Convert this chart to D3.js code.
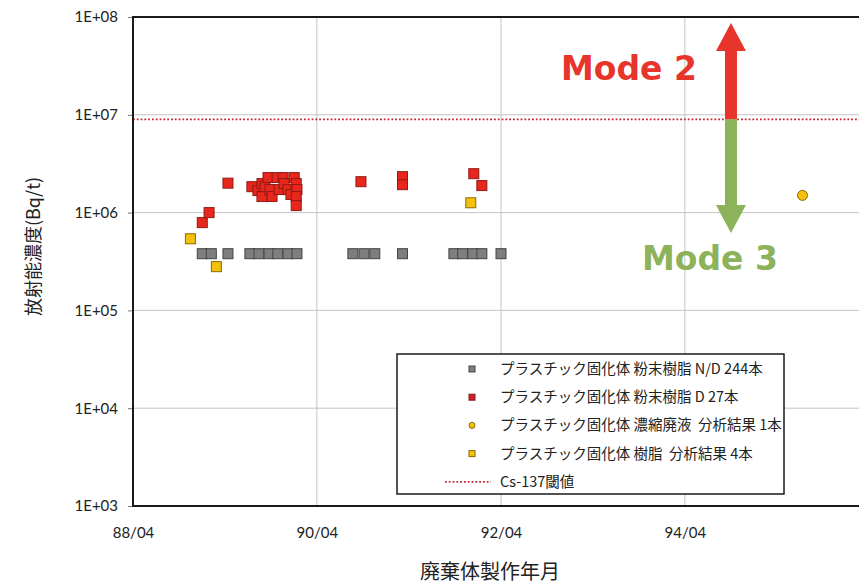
<!DOCTYPE html>
<html>
<head>
<meta charset="utf-8">
<script src="https://cdn.jsdelivr.net/npm/d3@7"></script>
<style>
  body { margin: 0; background: #fff; }
  svg { display: block; }
</style>
</head>
<body>
<svg id="chart" width="859" height="587"></svg>
<script>
// ---- data ----
// プラスチック固化体 粉末樹脂 N/D (detection limit values)
const ndDates = ["1989-01-01","1989-02-06","1989-04-13","1989-07-09","1989-08-14","1989-09-23",
  "1989-10-28","1989-12-07","1990-01-12","1990-08-22","1990-10-05","1990-11-17","1991-03-07",
  "1991-09-27","1991-11-01","1991-12-11","1992-01-16","1992-04-01"];
const ndValues = [3.8e5,3.8e5,3.8e5,3.8e5,3.8e5,3.8e5,3.8e5,3.8e5,3.8e5,3.8e5,3.8e5,3.8e5,3.8e5,
  3.8e5,3.8e5,3.8e5,3.8e5,3.8e5];

// プラスチック固化体 粉末樹脂 D
const dDates = ["1989-01-01","1989-01-28","1989-04-13","1989-07-17","1989-08-10","1989-08-26",
  "1989-08-26","1989-09-07","1989-09-19","1989-09-27","1989-10-05","1989-10-25","1989-11-02",
  "1989-11-18","1989-11-22","1989-12-07","1989-12-19","1990-01-01","1990-01-09","1990-01-12",
  "1990-01-09","1990-01-09","1990-09-23","1991-03-07","1991-03-07","1991-12-15","1992-01-16"];
const dValues = [7.9e5,1.0e6,2.0e6,1.84e6,1.68e6,1.98e6,1.46e6,1.84e6,2.28e6,1.72e6,1.46e6,
  2.28e6,1.72e6,2.28e6,1.98e6,1.72e6,1.53e6,2.28e6,1.98e6,1.72e6,1.46e6,1.18e6,2.07e6,
  2.33e6,1.93e6,2.5e6,1.89e6];

// プラスチック固化体 濃縮廃液 分析結果
const liquidDates = ["1995-07-12"];
const liquidValues = [1.5e6];

// プラスチック固化体 樹脂 分析結果
const resinDates = ["1988-11-15","1989-02-26","1991-12-03"];
const resinValues = [5.4e5,2.8e5,1.26e6];

// Cs-137 threshold
const threshold = 9.0e6;

// axis ticks
const yTicks = [1e3,1e4,1e5,1e6,1e7,1e8];
const yTickLabels = ["1E+03","1E+04","1E+05","1E+06","1E+07","1E+08"];
const xTickDates = ["1988-04-01","1990-04-01","1992-04-01","1994-04-01"];
const xTickLabels = ["88/04","90/04","92/04","94/04"];

const legendLabels = [
  "プラスチック固化体 粉末樹脂 N/D 244本",
  "プラスチック固化体 粉末樹脂 D 27本",
  "プラスチック固化体 濃縮廃液\u00a0\u00a0分析結果 1本",
  "プラスチック固化体 樹脂\u00a0\u00a0分析結果 4本",
  "Cs-137閾値"
];

// Mode boundary arrow
const arrowDate = "1994-10-01";
const arrowTop = 8.7e7;
const arrowBottom = 6.2e5;
const modeLabels = ["Mode 2", "Mode 3"];
const modeLabelValues = [2.27e7, 2.6e5];

// ---- drawing ----
const parse = d3.timeParse("%Y-%m-%d");
const svg = d3.select("#chart");
const W = 859, H = 587;
const margin = { left: 133, top: 17, right: -10, bottom: 81 };

const x = d3.scaleTime()
  .domain([parse("1988-04-01"), parse("1996-04-01")])
  .range([margin.left, W - margin.right]);
const y = d3.scaleLog()
  .domain([1e3, 1e8])
  .range([H - margin.bottom, margin.top]);

const numFont = "Lato, 'Open Sans', sans-serif";
const jpFont = "'Noto Sans CJK JP', sans-serif";

const colors = {
  nd: "#7e7e7e", ndStroke: "#444",
  d: "#e8261c", dStroke: "#8e1b16",
  yellow: "#f4c20d", yellowStroke: "#8a6a00",
  grid: "#c4c4c4",
  threshold: "#c3262c",
  mode2: "#e8352b",
  mode3: "#8cb25a"
};

const plot = svg.append("g");

// gridlines
plot.append("g").selectAll("line.hgrid")
  .data(yTicks.slice(1, -1))
  .join("line")
  .attr("x1", x.range()[0]).attr("x2", x.range()[1])
  .attr("y1", d => y(d)).attr("y2", d => y(d))
  .attr("stroke", colors.grid).attr("stroke-width", 1);

plot.append("g").selectAll("line.vgrid")
  .data(xTickDates.slice(1).map(parse))
  .join("line")
  .attr("x1", d => x(d)).attr("x2", d => x(d))
  .attr("y1", y(1e8)).attr("y2", y(1e3))
  .attr("stroke", colors.grid).attr("stroke-width", 1);

// y axis
const yAxis = d3.axisLeft(y)
  .tickValues(yTicks)
  .tickFormat((d, i) => yTickLabels[i])
  .tickSize(5)
  .tickPadding(10);
const yg = svg.append("g").attr("transform", `translate(${margin.left},0)`).call(yAxis);
yg.select(".domain").remove();
yg.selectAll(".tick line").attr("stroke", "#777");
yg.selectAll(".tick text").attr("font-family", numFont).attr("font-size", 15).attr("fill", "#222");

// x axis
const xAxis = d3.axisBottom(x)
  .tickValues(xTickDates.map(parse))
  .tickFormat((d, i) => xTickLabels[i])
  .tickSize(0)
  .tickPadding(21);
const xg = svg.append("g").attr("transform", `translate(0,${y(1e3)})`).call(xAxis);
xg.select(".domain").remove();
xg.selectAll(".tick text").attr("font-family", numFont).attr("font-size", 15).attr("fill", "#222");

// threshold
plot.append("line")
  .attr("x1", x.range()[0]).attr("x2", x.range()[1])
  .attr("y1", y(threshold)).attr("y2", y(threshold))
  .attr("stroke", colors.threshold).attr("stroke-width", 1.8)
  .attr("stroke-dasharray", "1.8,2");

// Mode arrow
const ax = x(parse(arrowDate));
const yMid = y(threshold);
const shaft = 6, headW = 15, headL = 28;
const yt = y(arrowTop), yb = y(arrowBottom);
svg.append("path")
  .attr("d", `M${ax - shaft},${yMid} L${ax - shaft},${yt + headL} L${ax - headW},${yt + headL}
    L${ax},${yt} L${ax + headW},${yt + headL} L${ax + shaft},${yt + headL} L${ax + shaft},${yMid} Z`)
  .attr("fill", colors.mode2);
svg.append("path")
  .attr("d", `M${ax - shaft},${yMid} L${ax - shaft},${yb - headL} L${ax - headW},${yb - headL}
    L${ax},${yb} L${ax + headW},${yb - headL} L${ax + shaft},${yb - headL} L${ax + shaft},${yMid} Z`)
  .attr("fill", colors.mode3);

svg.append("text")
  .attr("x", ax - 34).attr("y", y(modeLabelValues[0]))
  .attr("text-anchor", "end")
  .attr("font-family", "'DejaVu Sans', sans-serif").attr("font-weight", "bold")
  .attr("font-size", 33).attr("fill", colors.mode2)
  .text(modeLabels[0]);
svg.append("text")
  .attr("x", ax - 21).attr("y", y(modeLabelValues[1]))
  .attr("text-anchor", "middle")
  .attr("font-family", "'DejaVu Sans', sans-serif").attr("font-weight", "bold")
  .attr("font-size", 33).attr("fill", colors.mode3)
  .text(modeLabels[1]);

// markers
const sq = 10;
function squares(dates, values, fill, stroke) {
  plot.append("g").selectAll("rect")
    .data(dates.map((d, i) => ({ date: parse(d), v: values[i] })))
    .join("rect")
    .attr("x", d => x(d.date) - sq / 2)
    .attr("y", d => y(d.v) - sq / 2)
    .attr("width", sq).attr("height", sq)
    .attr("fill", fill).attr("stroke", stroke).attr("stroke-width", 1);
}
squares(ndDates, ndValues, colors.nd, colors.ndStroke);
squares(dDates, dValues, colors.d, colors.dStroke);
squares(resinDates, resinValues, colors.yellow, colors.yellowStroke);

plot.append("g").selectAll("circle")
  .data(liquidDates.map((d, i) => ({ date: parse(d), v: liquidValues[i] })))
  .join("circle")
  .attr("cx", d => x(d.date)).attr("cy", d => y(d.v))
  .attr("r", 5)
  .attr("fill", colors.yellow).attr("stroke", colors.yellowStroke).attr("stroke-width", 1);

// plot frame (left, top, bottom)
svg.append("path")
  .attr("d", `M${W + 5},${y(1e8)} L${x.range()[0]},${y(1e8)} L${x.range()[0]},${y(1e3)} L${W + 5},${y(1e3)}`)
  .attr("fill", "none").attr("stroke", "#1a1a1a").attr("stroke-width", 2);

// legend
const lg = svg.append("g").attr("transform", "translate(397,354)");
lg.append("rect")
  .attr("width", 387).attr("height", 140)
  .attr("fill", "#fff").attr("stroke", "#1a1a1a").attr("stroke-width", 1.5);
const rowY = i => 15 + i * 28.2;
const mx = 75;
legendLabels.forEach((label, i) => {
  const ry = rowY(i);
  if (i === 0 || i === 1 || i === 3) {
    const f = i === 0 ? colors.nd : i === 1 ? "#c8202a" : colors.yellow;
    const s = i === 0 ? colors.ndStroke : i === 1 ? colors.dStroke : colors.yellowStroke;
    lg.append("rect").attr("x", mx - 3).attr("y", ry - 3).attr("width", 6).attr("height", 6)
      .attr("fill", f).attr("stroke", s).attr("stroke-width", 1);
  } else if (i === 2) {
    lg.append("circle").attr("cx", mx).attr("cy", ry).attr("r", 3)
      .attr("fill", colors.yellow).attr("stroke", colors.yellowStroke).attr("stroke-width", 1);
  } else {
    lg.append("line").attr("x1", 48).attr("x2", 94).attr("y1", ry).attr("y2", ry)
      .attr("stroke", colors.threshold).attr("stroke-width", 1.8).attr("stroke-dasharray", "1.8,2");
  }
  lg.append("text")
    .attr("x", 103).attr("y", ry)
    .attr("dy", "0.35em")
    .attr("font-family", jpFont).attr("font-size", 14.5).attr("fill", "#222")
    .text(label);
});

// axis titles
svg.append("text")
  .attr("transform", `translate(40,${(y(1e8) + y(1e3)) / 2 - 15}) rotate(-90)`)
  .attr("text-anchor", "middle")
  .attr("font-family", jpFont).attr("font-size", 18).attr("fill", "#222")
  .text("放射能濃度(Bq/t)");
svg.append("text")
  .attr("x", 490).attr("y", 579)
  .attr("text-anchor", "middle")
  .attr("font-family", jpFont).attr("font-size", 20).attr("fill", "#222")
  .text("廃棄体製作年月");
</script>
</body>
</html>
